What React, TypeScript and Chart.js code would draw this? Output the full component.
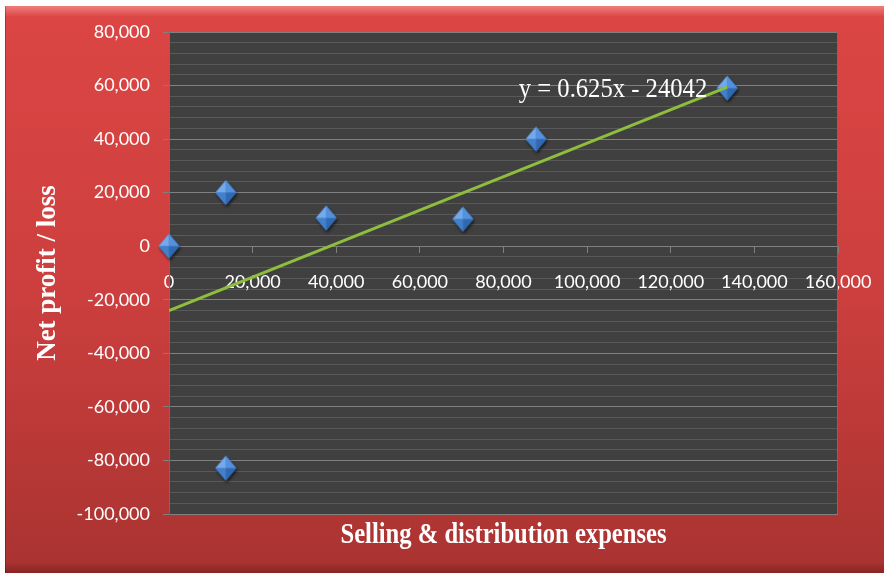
import React, { useEffect, useRef } from "react";
import { Chart, registerables } from "chart.js";

Chart.register(...registerables);

// Selling & distribution expenses (x) against net profit / loss (y)
const expenses = [0, 13600, 37600, 70300, 87800, 133500, 13600];
const netProfit = [0, 20000, 10500, 10100, 40000, 59000, -82900];

// Linear trendline as reported on the chart
const trendSlope = 0.625;
const trendIntercept = -24042;
const trendLabel = "y = 0.625x - 24042";

const xTitle = "Selling & distribution expenses";
const yTitle = "Net profit / loss";

const xMin = 0;
const xMax = 160000;
const xStep = 20000;
const yMin = -100000;
const yMax = 80000;
const yMajorStep = 20000;
const yMinorStep = 4000;

const W = 884;
const H = 575;

const fmt = (v: number) => Math.round(v).toLocaleString("en-US");

// Bevelled blue diamond used as the point marker
function makeDiamond(): HTMLCanvasElement {
  const w = 21;
  const h = 25;
  const pad = 5;
  const c = document.createElement("canvas");
  c.width = w + pad * 2;
  c.height = h + pad * 2;
  const ctx = c.getContext("2d")!;
  const cx = c.width / 2;
  const cy = c.height / 2;
  const top = [cx, cy - h / 2];
  const right = [cx + w / 2, cy];
  const bottom = [cx, cy + h / 2];
  const left = [cx - w / 2, cy];
  const tri = (a: number[], b: number[], col: string) => {
    ctx.beginPath();
    ctx.moveTo(a[0], a[1]);
    ctx.lineTo(b[0], b[1]);
    ctx.lineTo(cx, cy);
    ctx.closePath();
    ctx.fillStyle = col;
    ctx.fill();
  };
  ctx.save();
  ctx.shadowColor = "rgba(0,0,0,0.7)";
  ctx.shadowBlur = 3;
  ctx.shadowOffsetX = 1;
  ctx.shadowOffsetY = 2;
  ctx.beginPath();
  ctx.moveTo(top[0], top[1]);
  ctx.lineTo(right[0], right[1]);
  ctx.lineTo(bottom[0], bottom[1]);
  ctx.lineTo(left[0], left[1]);
  ctx.closePath();
  ctx.fillStyle = "#3f7cc8";
  ctx.fill();
  ctx.restore();
  tri(left, top, "#74aaea");
  tri(top, right, "#5491dc");
  tri(left, bottom, "#4280cc");
  tri(bottom, right, "#3069b2");
  return c;
}

const panelPlugin = {
  id: "panel",
  beforeDraw(chart: any) {
    const { ctx, width, height, chartArea } = chart;
    ctx.save();
    ctx.fillStyle = "#ffffff";
    ctx.fillRect(0, 0, width, height);
    const g = ctx.createLinearGradient(0, 6, 0, 573);
    g.addColorStop(0, "#dc4644");
    g.addColorStop(0.5, "#cc3f3e");
    g.addColorStop(1, "#a93331");
    ctx.fillStyle = g;
    ctx.fillRect(5, 6, width - 5, 567);
    const tb = ctx.createLinearGradient(0, 6, 0, 17);
    tb.addColorStop(0, "rgba(255,170,170,0.55)");
    tb.addColorStop(1, "rgba(255,170,170,0)");
    ctx.fillStyle = tb;
    ctx.fillRect(5, 6, width - 5, 11);
    const bb = ctx.createLinearGradient(0, 562, 0, 573);
    bb.addColorStop(0, "rgba(60,0,0,0)");
    bb.addColorStop(1, "rgba(60,0,0,0.3)");
    ctx.fillStyle = bb;
    ctx.fillRect(5, 562, width - 5, 11);
    ctx.fillStyle = "rgba(0,0,0,0.25)";
    ctx.fillRect(5, 6, 1, 567);
    ctx.fillStyle = "#404040";
    ctx.fillRect(
      chartArea.left,
      chartArea.top,
      chartArea.right - chartArea.left,
      chartArea.bottom - chartArea.top
    );
    ctx.restore();
  },
  afterDatasetsDraw(chart: any) {
    const { ctx, chartArea, scales } = chart;
    const xs = scales.x;
    const ys = scales.y;
    ctx.save();
    // right edge of the plot
    ctx.strokeStyle = "#6e6e6e";
    ctx.lineWidth = 1;
    ctx.beginPath();
    ctx.moveTo(chartArea.right - 0.5, chartArea.top);
    ctx.lineTo(chartArea.right - 0.5, chartArea.bottom);
    ctx.stroke();

    ctx.fillStyle = "#ffffff";

    // trendline equation
    const lastX = Math.max(...expenses);
    const endY = trendSlope * lastX + trendIntercept;
    ctx.save();
    ctx.translate(xs.getPixelForValue(lastX) - 20, ys.getPixelForValue(endY) + 10);
    ctx.scale(0.88, 1);
    ctx.font = '28px "Liberation Serif"';
    ctx.textAlign = "right";
    ctx.textBaseline = "alphabetic";
    ctx.fillText(trendLabel, 0, 0);
    ctx.restore();

    // x axis title
    ctx.save();
    ctx.translate((chartArea.left + chartArea.right) / 2, chartArea.bottom + 29);
    ctx.scale(0.82, 1);
    ctx.font = 'bold 30px "Liberation Serif"';
    ctx.textAlign = "center";
    ctx.textBaseline = "alphabetic";
    ctx.fillText(xTitle, 0, 0);
    ctx.restore();

    // y axis title
    ctx.save();
    ctx.translate(55, (chartArea.top + chartArea.bottom) / 2);
    ctx.rotate(-Math.PI / 2);
    ctx.font = 'bold 27px "Liberation Serif"';
    ctx.textAlign = "center";
    ctx.textBaseline = "alphabetic";
    ctx.fillText(yTitle, 0, 0);
    ctx.restore();

    ctx.restore();
  },
};

export default function App() {
  const ref = useRef<HTMLCanvasElement | null>(null);

  useEffect(() => {
    if (!ref.current) return;
    const marker = makeDiamond();
    const lastX = Math.max(...expenses);
    const points = expenses.map((x, i) => ({ x, y: netProfit[i] }));
    const trend = [
      { x: 0, y: trendIntercept },
      { x: lastX, y: trendSlope * lastX + trendIntercept },
    ];
    const majorGrid = "#808080";
    const minorGrid = "#595959";

    const chart = new Chart(ref.current, {
      type: "scatter",
      data: {
        datasets: [
          {
            label: "Net profit / loss",
            data: points,
            pointStyle: marker as any,
            pointRadius: 10,
            showLine: false,
            clip: false as any,
            order: 1,
          },
          {
            label: "Trend",
            data: trend,
            showLine: true,
            borderColor: "#8fbd3d",
            borderWidth: 3,
            pointRadius: 0,
            order: 0,
          },
        ],
      },
      options: {
        responsive: false,
        animation: false,
        devicePixelRatio: 1,
        layout: { padding: { left: 0, top: 32, right: 46, bottom: 61 } },
        plugins: {
          legend: { display: false },
          tooltip: { enabled: false },
        },
        scales: {
          x: {
            type: "linear",
            position: { y: 0 } as any,
            min: xMin,
            max: xMax,
            afterFit: (scale: any) => {
              scale.paddingLeft = 0;
              scale.paddingRight = 0;
            },
            ticks: {
              stepSize: xStep,
              color: "#ffffff",
              font: { family: "Lato", size: 18 },
              padding: 19,
              maxRotation: 0,
              autoSkip: false,
              callback: (v: any) => fmt(Number(v)),
            },
            grid: {
              drawOnChartArea: false,
              drawTicks: true,
              tickLength: 6,
              tickColor: majorGrid,
            },
            border: { display: true, color: majorGrid },
          },
          y: {
            type: "linear",
            min: yMin,
            max: yMax,
            afterFit: (scale: any) => {
              scale.width = 169;
              scale.paddingTop = 0;
              scale.paddingBottom = 0;
            },
            ticks: {
              stepSize: yMinorStep,
              color: "#ffffff",
              font: { family: "Lato", size: 18 },
              padding: 13,
              autoSkip: false,
              callback: (v: any) =>
                Number(v) % yMajorStep === 0 ? fmt(Number(v)) : "",
            },
            grid: {
              color: (c: any) =>
                c.tick && c.tick.value % yMajorStep === 0 ? majorGrid : minorGrid,
              tickColor: (c: any) =>
                c.tick && c.tick.value % yMajorStep === 0 ? majorGrid : "rgba(0,0,0,0)",
              tickLength: 6,
              lineWidth: 1,
            },
            border: { display: true, color: "#6e6e6e" },
          },
        },
      },
      plugins: [panelPlugin],
    });
    return () => chart.destroy();
  }, []);

  return (
    <div style={{ position: "absolute", left: 0, top: 0, width: W, height: H }}>
      <canvas ref={ref} width={W} height={H} />
    </div>
  );
}
